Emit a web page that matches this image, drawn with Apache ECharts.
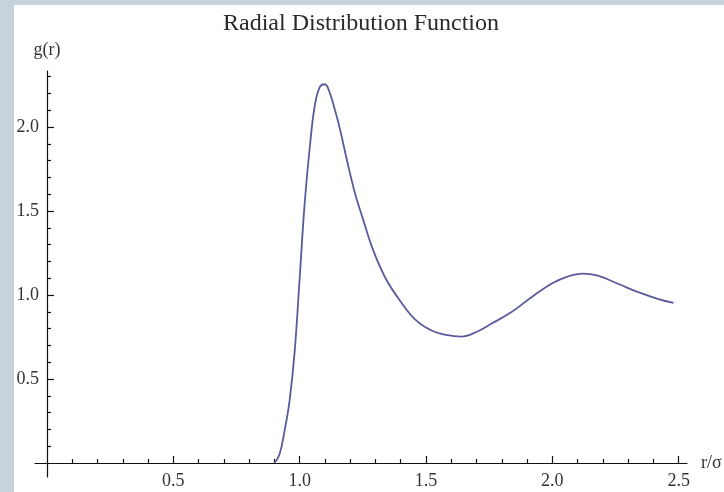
<!DOCTYPE html>
<html>
<head>
<meta charset="utf-8">
<script src="https://cdn.jsdelivr.net/npm/echarts@6/dist/echarts.min.js"></script>
<style>
  html, body { margin: 0; padding: 0; background: #c7d2da; }
  #rdf { position: absolute; left: 14px; top: 5px; width: 710px; height: 487px; background: #fff; }
</style>
</head>
<body>
<div id="rdf"></div>
<script>
  // r/sigma and g(r)
  var rValues = [0.90, 0.92, 0.94, 0.96, 0.98, 1.00, 1.02, 1.04, 1.06, 1.08, 1.10, 1.12, 1.14, 1.16, 1.18,
    1.20, 1.22, 1.25, 1.29, 1.34, 1.40, 1.46, 1.52, 1.58, 1.64, 1.70, 1.76, 1.84, 1.92, 2.00, 2.06,
    2.12, 2.18, 2.26, 2.34, 2.42, 2.48];
  var gValues = [0.00, 0.05, 0.19, 0.37, 0.66, 1.10, 1.55, 1.88, 2.13, 2.24, 2.255, 2.20, 2.10, 1.985, 1.85,
    1.72, 1.60, 1.455, 1.27, 1.10, 0.96, 0.85, 0.79, 0.762, 0.752, 0.78, 0.83, 0.90, 0.99, 1.07, 1.11,
    1.128, 1.115, 1.067, 1.017, 0.976, 0.953];

  var xMajorTicks = [0.5, 1.0, 1.5, 2.0, 2.5];
  var xMinorTicks = [0.1, 0.2, 0.3, 0.4, 0.6, 0.7, 0.8, 0.9, 1.1, 1.2, 1.3, 1.4, 1.6, 1.7, 1.8, 1.9,
    2.1, 2.2, 2.3, 2.4];
  var yMajorTicks = [0.5, 1.0, 1.5, 2.0];
  var yMinorTicks = [0.1, 0.2, 0.3, 0.4, 0.6, 0.7, 0.8, 0.9, 1.1, 1.2, 1.3, 1.4, 1.6, 1.7, 1.8, 1.9,
    2.1, 2.2, 2.3];

  var font = '"Liberation Serif", "Times New Roman", serif';
  var chart = echarts.init(document.getElementById('rdf'));

  var points = rValues.map(function (r, i) { return [r, gValues[i]]; });

  var option = {
    animation: false,
    title: {
      text: 'Radial Distribution Function',
      left: 204,
      top: 2,
      textStyle: { fontFamily: font, fontSize: 24, fontWeight: 'normal', color: '#2a2a2a' }
    },
    grid: { left: 21, right: 37, top: 66, bottom: 15, containLabel: false, outerBoundsMode: 'none' },
    xAxis: [{
      type: 'value',
      min: -0.0475,
      max: 2.533,
      position: 'bottom',
      name: 'r/σ',
      nameLocation: 'end',
      nameGap: 14,
      nameTextStyle: { fontFamily: font, fontSize: 18, color: '#333' },
      axisLine: { onZero: true, lineStyle: { color: '#111', width: 1.2 } },
      axisTick: { show: true, inside: true, length: 7, customValues: xMajorTicks, lineStyle: { color: '#111', width: 1.2 } },
      // labels sit at the grid edge, not at the zero line
      axisLabel: { customValues: xMajorTicks, margin: -5, fontFamily: font, fontSize: 18, color: '#333',
        formatter: function (v) { return v.toFixed(1); } },
      splitLine: { show: false }
    }, {
      type: 'value',
      min: -0.0475,
      max: 2.533,
      position: 'bottom',
      axisLine: { show: false, onZero: true },
      axisTick: { show: true, inside: true, length: 4, customValues: xMinorTicks, lineStyle: { color: '#111', width: 1.2 } },
      axisLabel: { show: false },
      splitLine: { show: false }
    }],
    yAxis: [{
      type: 'value',
      min: -0.0836,
      max: 2.334,
      position: 'left',
      name: 'g(r)',
      nameLocation: 'end',
      nameGap: 12,
      nameTextStyle: { fontFamily: font, fontSize: 18, color: '#333' },
      axisLine: { onZero: true, lineStyle: { color: '#111', width: 1.2 } },
      axisTick: { show: true, inside: true, length: 7, customValues: yMajorTicks, lineStyle: { color: '#111', width: 1.2 } },
      axisLabel: { customValues: yMajorTicks, margin: -4, fontFamily: font, fontSize: 18, color: '#333',
        formatter: function (v) { return v.toFixed(1); } },
      splitLine: { show: false }
    }, {
      type: 'value',
      min: -0.0836,
      max: 2.334,
      position: 'left',
      axisLine: { show: false, onZero: true },
      axisTick: { show: true, inside: true, length: 4, customValues: yMinorTicks, lineStyle: { color: '#111', width: 1.2 } },
      axisLabel: { show: false },
      splitLine: { show: false }
    }],
    series: [{
      type: 'line',
      xAxisIndex: 0,
      yAxisIndex: 0,
      data: points,
      smooth: 0.4,
      showSymbol: false,
      lineStyle: { color: '#5a5a9c', width: 1.8 }
    }]
  };

  chart.setOption(option);
</script>
</body>
</html>
